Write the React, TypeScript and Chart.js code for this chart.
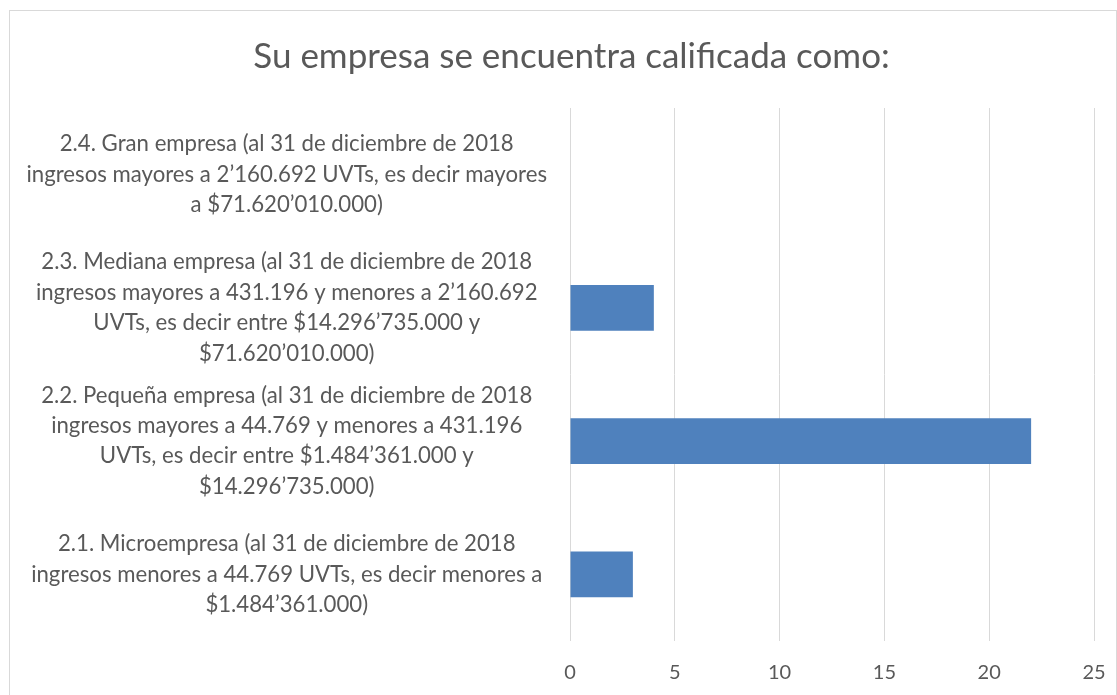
import React, { useEffect, useRef } from "react";
import { Chart, registerables } from "chart.js";

Chart.register(...registerables);

const TITLE = "Su empresa se encuentra calificada como:";

const categories: string[][] = [
  [
    "2.4. Gran empresa (al 31 de diciembre de 2018",
    "ingresos mayores a 2’160.692 UVTs, es decir mayores",
    "a $71.620’010.000)",
  ],
  [
    "2.3. Mediana empresa (al 31 de diciembre de 2018",
    "ingresos mayores a 431.196 y menores a 2’160.692",
    "UVTs, es decir entre $14.296’735.000 y",
    "$71.620’010.000)",
  ],
  [
    "2.2. Pequeña empresa (al 31 de diciembre de 2018",
    "ingresos mayores a 44.769 y menores a 431.196",
    "UVTs, es decir entre $1.484’361.000 y",
    "$14.296’735.000)",
  ],
  [
    "2.1. Microempresa (al 31 de diciembre de 2018",
    "ingresos menores a 44.769 UVTs, es decir menores a",
    "$1.484’361.000)",
  ],
];

const values: number[] = [0, 4, 22, 3];

const xMin = 0;
const xMax = 25;
const xStep = 5;

const TEXT = "#595959";
const GRID = "#d9d9d9";
const BAR = "#4f81bd";
const FONT = "Lato";

export default function App() {
  const ref = useRef<HTMLCanvasElement | null>(null);

  useEffect(() => {
    if (!ref.current) return;
    const chart = new Chart(ref.current, {
      type: "bar",
      data: {
        labels: categories,
        datasets: [
          {
            data: values,
            backgroundColor: BAR,
            borderWidth: 0,
            barPercentage: 0.345,
            categoryPercentage: 1,
          },
        ],
      },
      options: {
        indexAxis: "y",
        animation: false,
        responsive: false,
        maintainAspectRatio: false,
        layout: { padding: { left: 12, right: -14, top: 0, bottom: 10.6 } },
        plugins: {
          legend: { display: false },
          tooltip: { enabled: false },
          title: {
            display: true,
            text: TITLE,
            color: TEXT,
            font: { family: FONT, size: 35, weight: "normal", lineHeight: 1.2 },
            padding: { top: 36, bottom: 30 },
          },
        },
        scales: {
          x: {
            min: xMin,
            max: xMax,
            afterFit: (scale: any) => {
              scale.height = 43.4;
              scale.paddingLeft = 0;
              scale.paddingRight = 23;
            },
            ticks: {
              stepSize: xStep,
              color: TEXT,
              padding: 20,
              font: { family: FONT, size: 20 },
            },
            grid: { color: GRID, lineWidth: 1, drawTicks: false },
            border: { display: false },
          },
          y: {
            afterFit: (scale: any) => {
              scale.width = 558;
              scale.paddingTop = 0;
              scale.paddingBottom = 0;
            },
            ticks: {
              color: TEXT,
              crossAlign: "center",
              padding: 23,
              autoSkip: false,
              font: { family: FONT, size: 22.2, lineHeight: 1.37 },
            },
            grid: { display: false, drawTicks: false },
            border: { display: false },
          },
        },
      },
    });
    return () => chart.destroy();
  }, []);

  return (
    <div style={{ position: "absolute", left: 0, top: 0, width: 1117, height: 695, overflow: "hidden", background: "#fff" }}>
      <div
        style={{
          position: "absolute",
          left: 9,
          top: 10,
          width: 1106,
          height: 720,
          border: "1px solid #d9d9d9",
        }}
      />
      <canvas ref={ref} width={1117} height={695} style={{ position: "absolute", left: 0, top: 0 }} />
    </div>
  );
}
